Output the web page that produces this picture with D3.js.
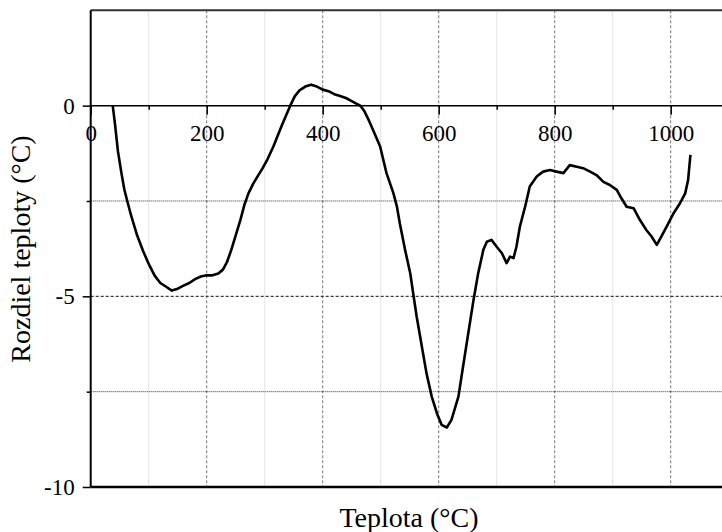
<!DOCTYPE html>
<html><head><meta charset="utf-8">
<script src="https://cdn.jsdelivr.net/npm/d3@7"></script>
<style>
html,body{margin:0;padding:0;background:#fff;}
svg{display:block;font-family:"Liberation Serif","Times New Roman",serif;}
</style></head>
<body>
<svg id="chart" width="722" height="532"></svg>
<script>
// Temperature (°C) and temperature difference (°C)
const temps = [38,42,47,53,58,63,70,80,90,100,110,120,130,140,150,160,170,180,190,200,210,220,228,235,242,250,258,265,272,280,288,296,305,315,322,330,337,344,352,360,370,380,390,400,410,420,430,440,450,458,465,472,480,490,499,
510,522,528,533,542,551,556,562,571,579,588,597,605,614,622,634,642,651,660,668,677,683,691,700,709,717,723,729,734,740,749,757,769,780,792,803,815,826,838,849,861,872,884,895,907,915,924,936,947,958,967,976,984,993,1005,1016,1025,1030,1034];
const diffs = [0,-0.5,-1.2,-1.77,-2.2,-2.5,-2.9,-3.4,-3.8,-4.15,-4.45,-4.65,-4.75,-4.85,-4.8,-4.72,-4.65,-4.55,-4.48,-4.45,-4.45,-4.4,-4.3,-4.1,-3.8,-3.4,-3.0,-2.6,-2.3,-2.05,-1.85,-1.65,-1.4,-1.07,-0.8,-0.5,-0.25,0,0.25,0.4,0.5,0.55,0.5,0.42,0.38,0.3,0.25,0.2,0.12,0.05,0,-0.15,-0.4,-0.75,-1.07,
-1.77,-2.3,-2.65,-3.09,-3.78,-4.4,-4.92,-5.53,-6.32,-7.02,-7.63,-8.07,-8.37,-8.44,-8.24,-7.63,-6.84,-5.97,-5.1,-4.4,-3.78,-3.57,-3.52,-3.7,-3.87,-4.13,-3.96,-4.0,-3.7,-3.17,-2.65,-2.12,-1.86,-1.73,-1.69,-1.73,-1.77,-1.56,-1.6,-1.64,-1.73,-1.82,-2.0,-2.08,-2.21,-2.43,-2.65,-2.69,-3.0,-3.26,-3.43,-3.65,-3.43,-3.17,-2.82,-2.56,-2.3,-1.95,-1.29];
const xMajorTicks = [0,200,400,600,800,1000];
const xMinorTicks = [100,300,500,700,900];
const yMajorTicks = [0,-5,-10];
const yMinorTicks = [-2.5,-7.5];
const xTitle = "Teplota (°C)";
const yTitle = "Rozdiel teploty (°C)";

const svg = d3.select("#chart");
const x = d3.scaleLinear().domain([0,1100]).range([90.7, 728.7]);
const y = d3.scaleLinear().domain([-10,2.5]).range([487, 10.3]);
const xL = x(0), xR = 722, yT = y(2.5), yB = y(-10);

// vertical grid
svg.append("g").selectAll("line").data(xMinorTicks).join("line")
  .attr("x1", d=>x(d)).attr("x2", d=>x(d)).attr("y1", yT).attr("y2", yB)
  .attr("stroke","#c8c8c8").attr("stroke-width",1).attr("stroke-dasharray","1,1");
svg.append("g").selectAll("line").data(xMajorTicks.filter(d=>d>0)).join("line")
  .attr("x1", d=>x(d)).attr("x2", d=>x(d)).attr("y1", yT).attr("y2", yB)
  .attr("stroke","#777").attr("stroke-width",1).attr("stroke-dasharray","3,2");
// horizontal grid
svg.append("g").selectAll("line").data(yMinorTicks).join("line")
  .attr("x1", xL).attr("x2", xR).attr("y1", d=>y(d)).attr("y2", d=>y(d))
  .attr("stroke","#333").attr("stroke-width",1).attr("stroke-dasharray","1,1");
svg.append("line").attr("x1", xL).attr("x2", xR).attr("y1", y(-5)).attr("y2", y(-5))
  .attr("stroke","#111").attr("stroke-width",1).attr("stroke-dasharray","3,2");

// frame
svg.append("line").attr("x1", xL).attr("x2", xR).attr("y1", yT).attr("y2", yT)
  .attr("stroke","#333").attr("stroke-width",2);
svg.append("line").attr("x1", xL).attr("x2", xR).attr("y1", yB).attr("y2", yB)
  .attr("stroke","#000").attr("stroke-width",2.5);

// x axis at y=0
const gx = svg.append("g").attr("transform",`translate(0,${y(0)})`);
gx.call(d3.axisBottom(x).tickValues(xMajorTicks).tickSize(9).tickFormat(d=>String(d)));
gx.call(g=>g.select(".domain").attr("stroke-width",1.5).attr("d",`M${xL},0H${xR}`));
gx.selectAll(".tick line").attr("stroke-width",1.5);
gx.selectAll(".tick text").attr("y",19).attr("dy","0.71em")
  .style("font-size","23px").style("font-family","'Liberation Serif',serif").attr("fill","#000");
const gxm = svg.append("g").attr("transform",`translate(0,${y(0)})`);
gxm.call(d3.axisBottom(x).tickValues(xMinorTicks).tickSize(4).tickFormat(""));
gxm.select(".domain").remove();
gxm.selectAll(".tick line").attr("stroke-width",1.5);

// y axis
const gy = svg.append("g").attr("transform",`translate(${xL},0)`);
gy.call(d3.axisLeft(y).tickValues(yMajorTicks).tickSize(8).tickPadding(8).tickFormat(d=>String(d)));
gy.call(g=>g.select(".domain").attr("stroke-width",2).attr("d",`M0,${yT}V${yB}`));
gy.selectAll(".tick line").attr("stroke-width",1.5);
gy.selectAll(".tick text").style("font-size","23px").style("font-family","'Liberation Serif',serif").attr("fill","#000");
const gym = svg.append("g").attr("transform",`translate(${xL},0)`);
gym.call(d3.axisLeft(y).tickValues(yMinorTicks).tickSize(4).tickFormat(""));
gym.select(".domain").remove();
gym.selectAll(".tick line").attr("stroke-width",1.5);

// curve
const pts = temps.map((t,i)=>[t, diffs[i]]);
svg.append("path").datum(pts)
  .attr("d", d3.line().x(d=>x(d[0])).y(d=>y(d[1])))
  .attr("fill","none").attr("stroke","#000").attr("stroke-width",2.6)
  .attr("stroke-linejoin","round");

// titles
svg.append("text").attr("x",409).attr("y",527).attr("text-anchor","middle")
  .style("font-size","28px").attr("fill","#000").text(xTitle);
svg.append("text").attr("transform","translate(30,249) rotate(-90)").attr("text-anchor","middle")
  .style("font-size","28px").attr("fill","#000").text(yTitle);
</script>
</body></html>
